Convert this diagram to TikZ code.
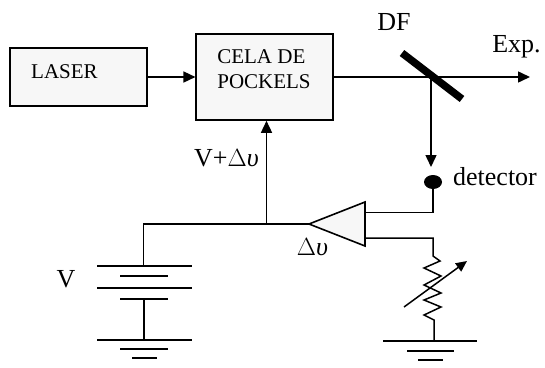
\documentclass[tikz,border=0pt]{standalone}
\usepackage{fontspec}
\setmainfont{Liberation Serif}
\usetikzlibrary{arrows.meta,calc,shapes.geometric}
\tikzset{
  wire/.style={line width=1.5pt,draw=black},
  arrow/.style={wire,-{Triangle[length=12pt,width=11pt]}},
  blockbox/.style={draw=black,line width=1.6pt,fill=black!3,inner sep=0pt},
  smalltext/.style={font=\fontsize{21}{25}\selectfont,inner sep=0pt,text=black},
  bigtext/.style={font=\fontsize{26}{28}\selectfont,inner sep=0pt,text=black},
}
\begin{document}
\begin{tikzpicture}[x=1pt,y=-1pt]
\useasboundingbox (0,0) rectangle (545,367);
% boxes
\node[blockbox,minimum width=136.5pt,minimum height=58pt] (laser) at (78.5,77) {};
\node[blockbox,minimum width=136.5pt,minimum height=86pt] (cela) at (264.5,77) {};
\node[smalltext] (lasertext) at (64.5,72) {LASER};
\node[smalltext,align=left] (celatext) at (264,69.5) {CELA DE\\POCKELS};
% optical path
\coordinate (split) at (431,77);
\coordinate (exp) at (530,77);
\draw[arrow] (laser.east) -- (cela.west);
\draw[arrow] (cela.east) -- (exp);
\node[bigtext] (dftext) at (394,22) {DF};
\node[bigtext] (exptext) at (516.5,47) {Exp.};
\coordinate (m1) at (402,53);
\coordinate (m2) at (462,99);
\draw[line width=7.5pt] (m1) -- (m2);
% detector
\node[fill=black,ellipse,minimum width=18pt,minimum height=14pt,inner sep=0pt] (det) at (433,182) {};
\coordinate (dettip) at (431,167);
\draw[arrow] (split) -- (dettip);
\node[bigtext] (dettext) at (495,177) {detector};
% amplifier
\coordinate (ampu) at (365,202);
\coordinate (ampd) at (365,246);
\coordinate (amptip) at (309,224);
\draw[blockbox] (ampu) -- (ampd) -- (amptip) -- cycle;
\coordinate (inu) at (365,212.5);
\coordinate (ind) at (365,238);
\coordinate (cu) at (433,212.5);
\coordinate (cd) at (433,238);
\draw[wire] (det) -- (cu) -- (inu);
\node[bigtext] (dutext) at (312.5,247) {$\Delta$\textit{υ}};
% feedback to cell
\coordinate (tee) at (266.5,224);
\coordinate (corner) at (143.5,224);
\coordinate (batttop) at (143.5,266);
\draw[wire] (amptip) -- (corner) -- (batttop);
\draw[arrow] (tee) -- (cela.south -| tee);
\node[bigtext] (vtext) at (226.5,158) {V+$\Delta$\textit{υ}};
% battery
\node[bigtext] (vlabel) at (66,279) {V};
\draw[wire] (97,266) -- (192,266);
\draw[wire] (120,276) -- (168,276);
\draw[wire] (97,288) -- (192,288);
\draw[wire] (120,299) -- (168,299);
\coordinate (b1) at (144,299);
\coordinate (g1) at (144,340);
\draw[wire] (b1) -- (g1);
\draw[wire] (97,340) -- (192,340);
\draw[wire] (120,349) -- (168,349);
\draw[wire] (132,358) -- (157,358);
% resistor
\coordinate (rtop) at (433,256);
\coordinate (rbot) at (434,320);
\coordinate (g2) at (434,341);
\draw[wire] (ind) -- (cd) -- (rtop) -- (440,261) -- (424,268) -- (441,276) -- (424,285) -- (441,293) -- (424,300) -- (441,307) -- (424,315) -- (rbot) -- (g2);
\draw[wire] (383,341) -- (477,341);
\draw[wire] (407,351) -- (454,351);
\draw[wire] (418,360) -- (443,360);
\coordinate (va) at (404,307);
\coordinate (vb) at (467,261);
\draw[wire,-{Triangle[length=11pt,width=10pt]}] (va) -- (vb);
\end{tikzpicture}
\end{document}
